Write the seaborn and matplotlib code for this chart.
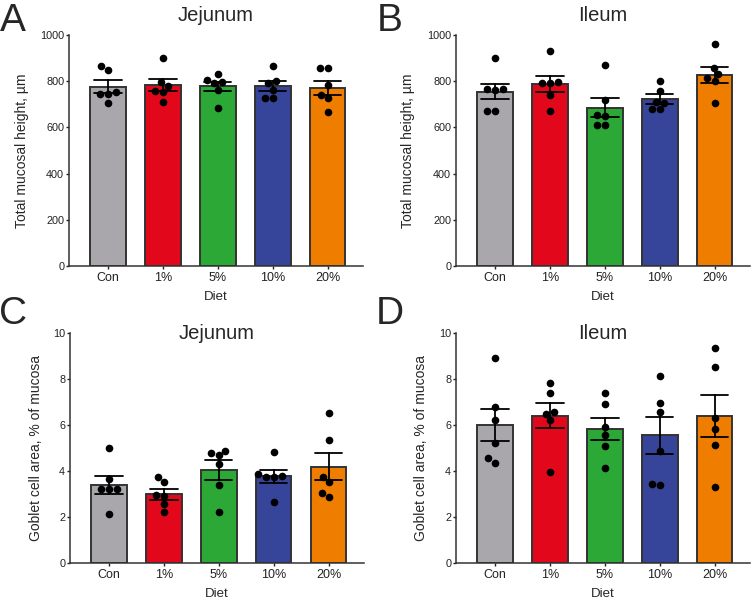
import pandas as pd
import matplotlib
matplotlib.use("Agg")
import matplotlib.pyplot as plt
import seaborn as sns

sns.set_style("ticks")
plt.rcParams['font.family'] = ['Liberation Sans', 'DejaVu Sans']

diets = ["Con", "1%", "5%", "10%", "20%"]
diet_colors = ["#A9A7AC", "#E2071A", "#2BA836", "#36459A", "#EF7D00"]

# individual animals
jej_height = {
	"Con": [867, 848, 753, 743, 743, 704],
	"1%": [902, 795, 780, 758, 755, 708],
	"5%": [831, 805, 795, 790, 760, 684],
	"10%": [867, 800, 790, 762, 725, 725],
	"20%": [855, 855, 782, 741, 725, 668],
}
ile_height = {
	"Con": [899, 764, 764, 760, 671, 671],
	"1%": [930, 795, 790, 790, 740, 670],
	"5%": [870, 718, 655, 650, 612, 610],
	"10%": [802, 759, 710, 705, 680, 678],
	"20%": [961, 858, 830, 812, 800, 704],
}
jej_goblet = {
	"Con": [4.99, 3.66, 3.21, 3.21, 3.21, 2.12],
	"1%": [3.76, 3.54, 2.95, 2.92, 2.55, 2.21],
	"5%": [4.88, 4.80, 4.70, 4.31, 3.37, 2.23],
	"10%": [4.84, 3.89, 3.78, 3.76, 3.72, 2.64],
	"20%": [6.53, 5.35, 3.76, 3.54, 3.06, 2.86],
}
ile_goblet = {
	"Con": [8.92, 6.79, 6.21, 5.20, 4.55, 4.36],
	"1%": [7.83, 7.40, 6.56, 6.50, 6.21, 3.97],
	"5%": [7.40, 6.91, 5.90, 5.56, 5.10, 4.15],
	"10%": [8.12, 6.97, 6.55, 4.87, 3.42, 3.37],
	"20%": [9.36, 8.53, 6.29, 5.82, 5.13, 3.29],
}

height_label = "Total mucosal height, µm"
goblet_label = "Goblet cell area, % of mucosa"


def to_frame(d):
	rows = [(k, v) for k in diets for v in d[k]]
	return pd.DataFrame(rows, columns=["Diet", "value"])


def panel(ax, d, title, ylabel, ymax, ystep, title_y, ylab_x):
	df = to_frame(d)
	sns.barplot(data=df, x="Diet", y="value", hue="Diet", order=diets, hue_order=diets,
		palette=diet_colors, legend=False, estimator="mean", errorbar="se",
		width=0.65, capsize=0.5, saturation=1, edgecolor="#333333", linewidth=1.4,
		err_kws={"color": "black", "linewidth": 1.3}, ax=ax)
	sns.swarmplot(data=df, x="Diet", y="value", order=diets, color="black", size=5.5, ax=ax)
	ax.set_xlim(-0.71, 4.64)
	ax.set_ylim(0, ymax)
	ax.set_yticks([i * ystep for i in range(6)])
	ax.set_ylabel(ylabel, fontsize=10)
	ax.set_xlabel("Diet", fontsize=9.5, labelpad=5)
	ax.yaxis.set_label_coords(ylab_x, 0.5)
	ax.tick_params(axis="y", labelsize=7.8, length=2.5, width=1, pad=1, colors="#222222")
	ax.tick_params(axis="x", labelsize=9, length=2.5, width=1, pad=2, colors="#222222")
	sns.despine(ax=ax)
	for s in ["left", "bottom"]:
		ax.spines[s].set_linewidth(1.1)
		ax.spines[s].set_color("#333333")
	ax.text(0.5, title_y, title, transform=ax.transAxes, ha="center", va="center", fontsize=14.5)


fig = plt.figure(figsize=(7.55, 6.02), dpi=100)
axA = fig.add_axes([0.0914, 0.558, 0.389, 0.384])
axB = fig.add_axes([0.604, 0.558, 0.389, 0.384])
axC = fig.add_axes([0.0927, 0.0648, 0.389, 0.382])
axD = fig.add_axes([0.604, 0.0648, 0.389, 0.382])

panel(axA, jej_height, "Jejunum", height_label, 1000, 200, 1.085, -0.136)
panel(axB, ile_height, "Ileum", height_label, 1000, 200, 1.085, -0.139)
panel(axC, jej_goblet, "Jejunum", goblet_label, 10, 2, 1.0, -0.092)
panel(axD, ile_goblet, "Ileum", goblet_label, 10, 2, 1.0, -0.095)

for lab, x, y in [("A", 13, 21), ("B", 390, 21), ("C", 13, 314), ("D", 390, 314)]:
	fig.text(x / 755, 1 - y / 602, lab, ha="center", va="center", fontsize=28)

fig.savefig("out.png", dpi=100)
